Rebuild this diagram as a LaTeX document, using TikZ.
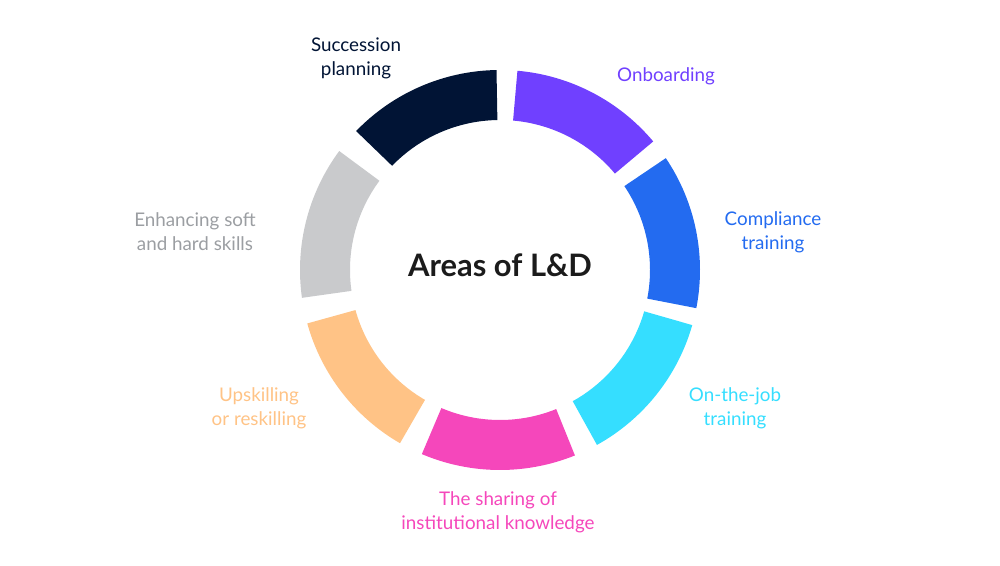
\documentclass[tikz,border=0pt]{standalone}
\usepackage{fontspec}
\setmainfont{Lato}
\usepackage{xcolor}
\usepackage{tikz}
\usetikzlibrary{positioning}

\definecolor{cNavy}{HTML}{011435}
\definecolor{cPurple}{HTML}{7040FF}
\definecolor{cBlue}{HTML}{236BF0}
\definecolor{cCyan}{HTML}{35DEFF}
\definecolor{cPink}{HTML}{F547BB}
\definecolor{cOrange}{HTML}{FFC386}
\definecolor{cGrey}{HTML}{C9CACC}
\definecolor{cGreyTxt}{HTML}{9B9EA2}
\definecolor{cTitle}{HTML}{1B1B1B}

\begin{document}
\begin{tikzpicture}[align=center,
  lbl/.style={font=\fontsize{10.7}{13.7}\selectfont, inner sep=0pt},
  ttl/.style={font=\fontsize{17.6}{20}\selectfont\bfseries, text=cTitle, inner sep=0pt},
]
\useasboundingbox (0,0) rectangle (20,11.32);

%% Ring segments (outer 4cm, inner 3cm)
\begin{scope}[shift={(10,5.92)}]
\fill[cNavy]   (91:4)   arc[start angle=91,   end angle=136,  radius=4] -- (136:3)  arc[start angle=136,  end angle=91,   radius=3] -- cycle;
\fill[cPurple] (40:4)   arc[start angle=40,   end angle=85,   radius=4] -- (85:3)   arc[start angle=85,   end angle=40,   radius=3] -- cycle;
\fill[cBlue]   (-11:4)  arc[start angle=-11,  end angle=34,   radius=4] -- (34:3)   arc[start angle=34,   end angle=-11,  radius=3] -- cycle;
\fill[cCyan]   (-61:4)  arc[start angle=-61,  end angle=-16,  radius=4] -- (-16:3)  arc[start angle=-16,  end angle=-61,  radius=3] -- cycle;
\fill[cPink]   (-113:4) arc[start angle=-113, end angle=-68,  radius=4] -- (-68:3)  arc[start angle=-68,  end angle=-113, radius=3] -- cycle;
\fill[cOrange] (-164.5:4) arc[start angle=-164.5, end angle=-120, radius=4] -- (-120:3) arc[start angle=-120, end angle=-164.5, radius=3] -- cycle;
\fill[cGrey]   (143.5:4) arc[start angle=143.5, end angle=188, radius=4] -- (188:3)  arc[start angle=188,  end angle=143.5, radius=3] -- cycle;
\end{scope}

%% Title
\node[ttl, anchor=base] (title) at (10,5.78) {Areas of L\&D};

%% Labels
\node[lbl, text=cNavy]    (succ)  at (7.12,10.16) {Succession\\planning};
\node[lbl, text=cPurple]  (onb)   at (13.32,9.8)  {Onboarding};
\node[lbl, text=cBlue]    (comp)  at (15.46,6.68) {Compliance\\training};
\node[lbl, text=cCyan]    (job)   at (14.7,3.16)  {On-the-job\\training};
\node[lbl, text=cPink]    (share) at (9.96,1.08)  {The sharing of\\institutional knowledge};
\node[lbl, text=cOrange]  (upsk)  at (5.18,3.16)  {Upskilling\\or reskilling};
\node[lbl, text=cGreyTxt] (soft)  at (3.9,6.68)   {Enhancing soft\\and hard skills};

\end{tikzpicture}
\end{document}
